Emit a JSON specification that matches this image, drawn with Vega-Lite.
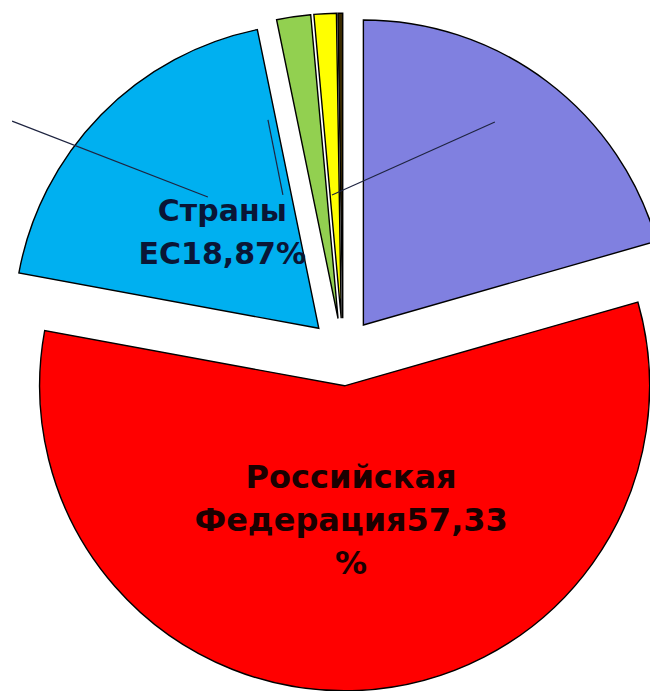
{
  "$schema": "https://vega.github.io/schema/vega-lite/v6.json",
  "width": 650,
  "height": 691,
  "padding": 0,
  "autosize": "none",
  "background": "white",
  "config": {"view": {"stroke": null}},
  "datasets": {
    "shares": [
      {"ord": 1, "name": "Прочие страны", "value": 20.57, "label": ""},
      {"ord": 2, "name": "Российская Федерация", "value": 57.33, "label": "Российская\nФедерация57,33\n%"},
      {"ord": 3, "name": "Страны ЕС", "value": 18.87, "label": "Страны\nЕС18,87%"},
      {"ord": 4, "name": "Страны СНГ", "value": 1.8, "label": ""},
      {"ord": 5, "name": "Китай", "value": 1.18, "label": ""},
      {"ord": 6, "name": "США", "value": 0.25, "label": ""}
    ],
    "leaders": [
      {"x": -1.085, "y": 0.757, "x2": -0.443, "y2": 0.508},
      {"x": -0.246, "y": 0.761, "x2": -0.197, "y2": 0.515},
      {"x": 0.498, "y": 0.754, "x2": -0.036, "y2": 0.515}
    ]
  },
  "layer": [
    {
      "data": {"name": "shares"},
      "transform": [
        {"window": [{"op": "sum", "field": "value", "as": "cum"}], "sort": [{"field": "ord"}], "frame": [null, 0]},
        {"calculate": "datum.cum - datum.value", "as": "start"},
        {"calculate": "(datum.start + datum.cum) / 100 * PI", "as": "mid"},
        {"calculate": "0.111 * sin(datum.mid)", "as": "cx"},
        {"calculate": "0.111 * cos(datum.mid)", "as": "cy"}
      ],
      "mark": {"type": "arc", "radius": 305, "stroke": "#000000", "strokeWidth": 1.4, "clip": true},
      "encoding": {
        "theta": {"field": "start", "type": "quantitative", "stack": null, "scale": {"domain": [0, 100]}},
        "theta2": {"field": "cum"},
        "x": {"field": "cx", "type": "quantitative", "scale": {"domain": [-1.1246, 1.0066], "nice": false, "zero": false}, "axis": null},
        "y": {"field": "cy", "type": "quantitative", "scale": {"domain": [-1.1115, 1.1541], "nice": false, "zero": false}, "axis": null},
        "color": {
          "field": "name",
          "type": "nominal",
          "scale": {
            "domain": ["Прочие страны", "Российская Федерация", "Страны ЕС", "Страны СНГ", "Китай", "США"],
            "range": ["#8080e0", "#ff0000", "#00b0f0", "#92d050", "#ffff00", "#3a2a00"]
          },
          "legend": null
        }
      }
    },
    {
      "data": {"name": "leaders"},
      "mark": {"type": "rule", "stroke": "#1e2440", "strokeWidth": 1.2},
      "encoding": {
        "x": {"field": "x", "type": "quantitative", "scale": {"domain": [-1.1246, 1.0066], "nice": false, "zero": false}, "axis": null},
        "y": {"field": "y", "type": "quantitative", "scale": {"domain": [-1.1115, 1.1541], "nice": false, "zero": false}, "axis": null},
        "x2": {"field": "x2"},
        "y2": {"field": "y2"}
      }
    },
    {
      "data": {"name": "shares"},
      "transform": [
        {"window": [{"op": "sum", "field": "value", "as": "cum"}], "sort": [{"field": "ord"}], "frame": [null, 0]},
        {"calculate": "datum.cum - datum.value", "as": "start"},
        {"calculate": "(datum.start + datum.cum) / 100 * PI", "as": "mid"},
        {"calculate": "length(split(datum.label, '\\n'))", "as": "nlines"},
        {"calculate": "0.554 * sin(datum.mid)", "as": "lx"},
        {"calculate": "0.554 * cos(datum.mid) + (datum.nlines - 1) * 0.0705", "as": "ly"},
        {"filter": "datum.label !== ''"}
      ],
      "mark": {"type": "text", "font": "DejaVu Sans", "fontWeight": "bold", "lineBreak": "\n", "lineHeight": 43, "align": "center", "baseline": "middle"},
      "encoding": {
        "x": {"field": "lx", "type": "quantitative", "scale": {"domain": [-1.1246, 1.0066], "nice": false, "zero": false}, "axis": null},
        "y": {"field": "ly", "type": "quantitative", "scale": {"domain": [-1.1115, 1.1541], "nice": false, "zero": false}, "axis": null},
        "text": {"field": "label", "type": "nominal"},
        "size": {"condition": {"test": "datum.name === 'Страны ЕС'", "value": 30}, "value": 32},
        "color": {"condition": {"test": "datum.name === 'Страны ЕС'", "value": "#0a1636"}, "value": "#1a0000"}
      }
    }
  ]
}
